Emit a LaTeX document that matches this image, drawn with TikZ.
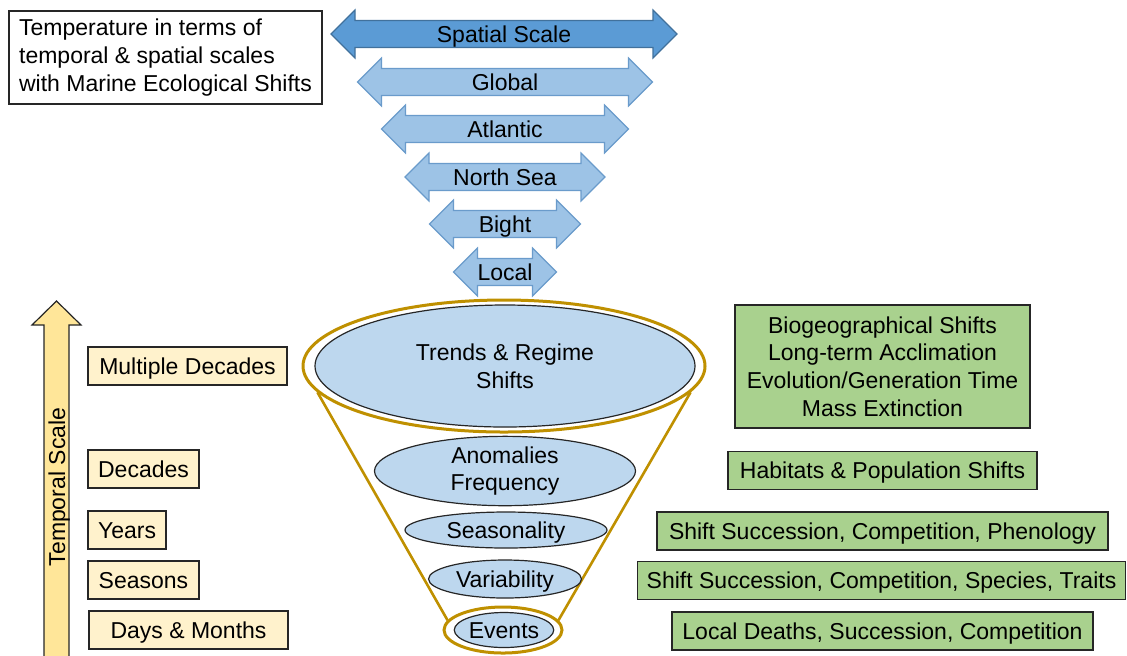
\documentclass[tikz,border=0pt]{standalone}
\usepackage{fontspec}
\setmainfont{Liberation Sans}
\usetikzlibrary{shapes.geometric}

\definecolor{spatialblue}{HTML}{5B9BD5}
\definecolor{spatialline}{HTML}{41719C}
\definecolor{scaleblue}{HTML}{9DC3E6}
\definecolor{scaleline}{HTML}{6A9BCB}
\definecolor{ellblue}{HTML}{BDD7EE}
\definecolor{funnelgold}{HTML}{BF9000}
\definecolor{tempyellow}{HTML}{FFE699}
\definecolor{timebox}{HTML}{FFF2CC}
\definecolor{effectgreen}{HTML}{A9D18E}
\definecolor{boxline}{HTML}{262626}

\begin{document}
\begin{tikzpicture}[x=0.5pt, y=-0.5pt,
    every node/.style={font=\fontsize{11.5}{13.8}\selectfont, inner sep=0pt},
    oneline/.style={text height=9.2pt, text depth=1pt},
    bigarrow/.style={fill=spatialblue, draw=spatialline, line width=0.6pt},
    scalearrow/.style={fill=scaleblue, draw=scaleline, line width=0.6pt},
    timecell/.style={oneline, draw=boxline, line width=0.8pt, fill=timebox, minimum height=19pt},
    effectcell/.style={draw=boxline, line width=0.8pt, fill=effectgreen, minimum height=19pt, align=center},
    layer/.style={ellipse, draw=boxline, line width=0.6pt, fill=ellblue, align=center},
    rim/.style={ellipse, draw=funnelgold, line width=1.5pt, fill=white}]
    \def\px{0.5pt} % one pixel of the reference
    \useasboundingbox (0,0) rectangle (1127,655);

    % Title
    \node[draw=boxline, line width=0.8pt, align=left, minimum width=313*\px, minimum height=93*\px] (title) at (165.5,57.5)
        {Temperature in terms of\\temporal \& spatial scales\\with Marine Ecological Shifts};

    % Spatial scale arrows
    \draw[bigarrow] (331,34) -- ++(24,-24) -- ++(0,10.5) -- (653,20.5) -- ++(0,-10.5) -- (677,34) -- ++(-24,24) -- ++(0,-10.5) -- (355,47.5) -- ++(0,10.5) -- cycle;
    \node[oneline] (spatial) at (504,34) {Spatial Scale};
    \foreach \name/\lab/\cy/\len in {global/Global/82/147.5, atlantic/Atlantic/129/123.5, northsea/North Sea/177/100, bight/Bight/224/75.5, local/Local/272/51.5}{
        \draw[scalearrow] (505-\len,\cy) -- ++(24,-24) -- ++(0,10.5) -- (505+\len-24,\cy-13.5) -- ++(0,-10.5) -- (505+\len,\cy) -- ++(-24,24) -- ++(0,-10.5) -- (505-\len+24,\cy+13.5) -- ++(0,10.5) -- cycle;
        \node[oneline] (\name) at (505,\cy) {\lab};
    }

    % Temporal scale arrow
    \filldraw[fill=tempyellow, draw=boxline, line width=0.6pt] (44,656) -- (44,325) -- (32,325) -- (56.5,301) -- (81,325) -- (69,325) -- (69,656);
    \node[oneline, rotate=90] (temporal) at (57,487) {Temporal Scale};

    % Time boxes
    \node[timecell, minimum width=199*\px] (multi) at (187.5,366) {Multiple Decades};
    \node[timecell, minimum width=111*\px] (decades) at (143.5,469) {Decades};
    \node[timecell, minimum width=78*\px] (years) at (127,530) {Years};
    \node[timecell, minimum width=111*\px] (seasons) at (143.5,580) {Seasons};
    \node[timecell, minimum width=199*\px] (days) at (188.5,630) {Days \& Months};

    % Funnel
    \node[rim, minimum width=402*\px, minimum height=132*\px] (top) at (504,366) {};
    \node[rim, minimum width=118*\px, minimum height=46*\px] (tip) at (503,630) {};
    \draw[funnelgold, line width=1.3pt] (top.188) -- (tip.170);
    \draw[funnelgold, line width=1.3pt] (top.-8) -- (tip.10);
    \node[layer, minimum width=380*\px, minimum height=122*\px] (trends) at (505,366) {Trends \& Regime\\Shifts};
    \node[layer, minimum width=261*\px, minimum height=62*\px] (anomalies) at (505,471) {Anomalies\\Frequency};
    \node[layer, oneline, minimum width=202*\px, minimum height=36*\px] (seasonality) at (506,530) {Seasonality};
    \node[layer, oneline, minimum width=153*\px, minimum height=38*\px] (variability) at (505,579) {Variability};
    \node[layer, oneline, minimum width=98*\px, minimum height=35*\px] (events) at (504,630) {Events};

    % Ecological shifts
    \node[effectcell, minimum width=295*\px, minimum height=123*\px] (biogeo) at (882.5,366.5)
        {Biogeographical Shifts\\Long-term Acclimation\\Evolution/Generation Time\\Mass Extinction};
    \node[effectcell, oneline, minimum width=309*\px] (habitats) at (882.5,470.5) {Habitats \& Population Shifts};
    \node[effectcell, oneline, minimum width=451*\px] (phenology) at (882.5,531) {Shift Succession, Competition, Phenology};
    \node[effectcell, oneline, minimum width=488*\px] (traits) at (881.5,580.5) {Shift Succession, Competition, Species, Traits};
    \node[effectcell, oneline, minimum width=421*\px] (deaths) at (882.5,631) {Local Deaths, Succession, Competition};
\end{tikzpicture}
\end{document}
